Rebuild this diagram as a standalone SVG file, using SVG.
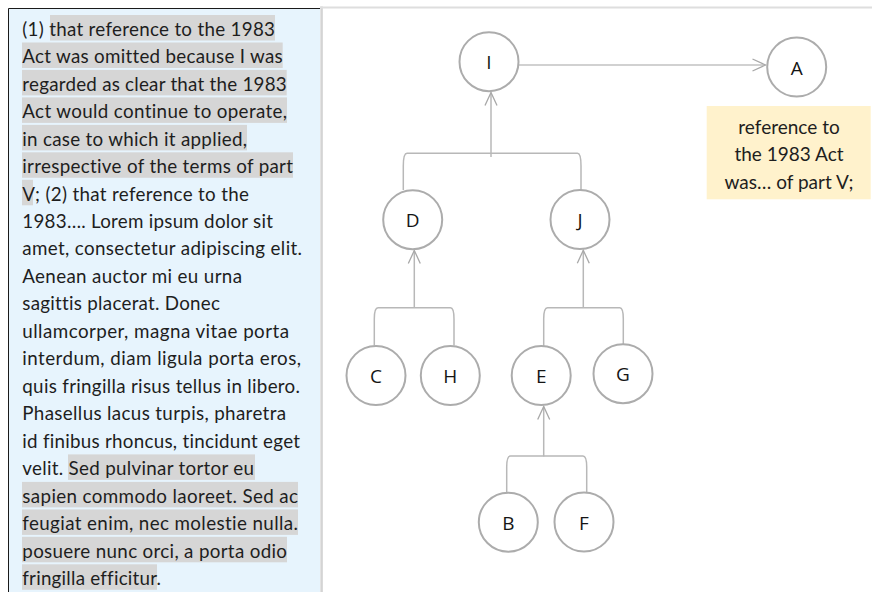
<svg xmlns="http://www.w3.org/2000/svg" width="872" height="592" viewBox="0 0 872 592">
  <style>
    text { font-variant-ligatures: none; font-feature-settings: "liga" 0, "clig" 0; }
    .body { font-family: Lato, "Liberation Sans", sans-serif; font-size: 18.8px; fill: #1e1e1e; }
    .hl { fill: #d6d6d6; }
    .node circle { fill: #ffffff; stroke: #acacac; stroke-width: 2; }
    .node text { font-family: "Open Sans", "Liberation Sans", sans-serif; font-size: 19px; fill: #151515; text-anchor: middle; }
    .tree { fill: none; stroke: #b8b8b8; stroke-width: 1.5; }
    .link { fill: none; stroke: #a4a4a4; stroke-width: 1.2; }
    .note { font-family: Lato, "Liberation Sans", sans-serif; font-size: 19px; fill: #1e1e1e; text-anchor: middle; }
  </style>
  <defs>
    <marker id="arrow" markerUnits="userSpaceOnUse" viewBox="-15 -8 17 16" markerWidth="17" markerHeight="16" refX="0" refY="0" orient="auto">
      <path d="M-13,-6 L0,0 L-13,6" fill="none" stroke="#a8a8a8" stroke-width="1.3"/>
    </marker>
  </defs>

  <rect width="872" height="592" fill="#ffffff"/>

  <!-- text panel -->
  <g id="text-panel">
    <rect x="9" y="9" width="311" height="583" fill="#e7f4fd"/>
    <path d="M8.5,592 V8.5 H320" fill="none" stroke="#1a1a1a" stroke-width="1"/>
    <line x1="321.6" y1="6.5" x2="321.6" y2="592" stroke="#d4d4d4" stroke-width="2.5"/>
    <line x1="320" y1="7.5" x2="872" y2="7.5" stroke="#dedede" stroke-width="2"/>

    <!-- highlighted passages -->
    <rect class="hl" x="50" y="15.0" width="225" height="25.5"/>
    <rect class="hl" x="22" y="42.5" width="260.7" height="25.5"/>
    <rect class="hl" x="22" y="69.9" width="264.7" height="25.5"/>
    <rect class="hl" x="22" y="97.4" width="265" height="25.5"/>
    <rect class="hl" x="22" y="124.9" width="225" height="25.5"/>
    <rect class="hl" x="22" y="152.3" width="271" height="25.5"/>
    <rect class="hl" x="22" y="179.8" width="11" height="25.5"/>
    <rect class="hl" x="68" y="454.4" width="187" height="25.5"/>
    <rect class="hl" x="22" y="481.9" width="276" height="25.5"/>
    <rect class="hl" x="22" y="509.4" width="276" height="25.5"/>
    <rect class="hl" x="22" y="536.8" width="265" height="25.5"/>
    <rect class="hl" x="22" y="564.3" width="135" height="25.5"/>

    <text class="body" x="22.3" y="35.7" textLength="252.7">(1) that reference to the 1983</text>
    <text class="body" x="22.3" y="63.2" textLength="260.4">Act was omitted because I was</text>
    <text class="body" x="22.3" y="90.6" textLength="264.4">regarded as clear that the 1983</text>
    <text class="body" x="22.3" y="118.1" textLength="264.7">Act would continue to operate,</text>
    <text class="body" x="22.3" y="145.6" textLength="224.7">in case to which it applied,</text>
    <text class="body" x="22.3" y="173.0" textLength="270.7">irrespective of the terms of part</text>
    <text class="body" x="22.3" y="200.5" textLength="226.7">V; (2) that reference to the</text>
    <text class="body" x="22.3" y="228.0" textLength="250.7">1983…. Lorem ipsum dolor sit</text>
    <text class="body" x="22.3" y="255.4" textLength="279.7">amet, consectetur adipiscing elit.</text>
    <text class="body" x="22.3" y="282.9" textLength="219.7">Aenean auctor mi eu urna</text>
    <text class="body" x="22.3" y="310.4" textLength="197.7">sagittis placerat. Donec</text>
    <text class="body" x="22.3" y="337.8" textLength="266.7">ullamcorper, magna vitae porta</text>
    <text class="body" x="22.3" y="365.3" textLength="278.7">interdum, diam ligula porta eros,</text>
    <text class="body" x="22.3" y="392.7" textLength="277.7">quis fringilla risus tellus in libero.</text>
    <text class="body" x="22.3" y="420.2" textLength="263.7">Phasellus lacus turpis, pharetra</text>
    <text class="body" x="22.3" y="447.7" textLength="277.7">id finibus rhoncus, tincidunt eget</text>
    <text class="body" x="22.3" y="475.1" textLength="231.7">velit. Sed pulvinar tortor eu</text>
    <text class="body" x="22.3" y="502.6" textLength="275.7">sapien commodo laoreet. Sed ac</text>
    <text class="body" x="22.3" y="530.1" textLength="275.7">feugiat enim, nec molestie nulla.</text>
    <text class="body" x="22.3" y="557.5" textLength="264.7">posuere nunc orci, a porta odio</text>
    <text class="body" x="22.3" y="585.0" textLength="138.7">fringilla efficitur.</text>
  </g>

  <!-- connectors -->
  <g id="connectors">
    <line class="link" x1="519" y1="65" x2="765.5" y2="65" marker-end="url(#arrow)"/>

    <path class="tree" d="M403.3,190 V166 Q403.3,153.3 407,153.3 H577.5 Q581,153.3 581,166 V190"/>
    <path class="tree" d="M491,157 V92.5" marker-end="url(#arrow)"/>

    <path class="tree" d="M374.3,345.5 V319 Q374.3,307.7 378,307.7 H450.5 Q454,307.7 454,319 V345.5"/>
    <path class="tree" d="M414.3,308 V250.5" marker-end="url(#arrow)"/>

    <path class="tree" d="M543.7,346 V319 Q543.7,307.7 547.5,307.7 H619.8 Q623.3,307.7 623.3,319 V344"/>
    <path class="tree" d="M583.3,308 V250.3" marker-end="url(#arrow)"/>

    <path class="tree" d="M506.7,492.7 V467 Q506.7,456 510.5,456 H583 Q586.7,456 586.7,467 V492.7"/>
    <path class="tree" d="M543.7,456.5 V406.5" marker-end="url(#arrow)"/>
  </g>

  <!-- nodes -->
  <g id="node-I" class="node"><circle cx="489" cy="61.7" r="29.5"/><text x="489" y="69">I</text></g>
  <g id="node-A" class="node"><circle cx="796.7" cy="67" r="29.5"/><text x="796.7" y="74.5">A</text></g>
  <g id="node-D" class="node"><circle cx="412.7" cy="219.7" r="29.5"/><text x="412.7" y="227.2">D</text></g>
  <g id="node-J" class="node"><circle cx="580" cy="219.5" r="29.5"/><text x="580" y="227">J</text></g>
  <g id="node-C" class="node"><circle cx="376" cy="375.5" r="29.5"/><text x="376" y="383">C</text></g>
  <g id="node-H" class="node"><circle cx="450.3" cy="375.5" r="29.5"/><text x="450.3" y="383">H</text></g>
  <g id="node-E" class="node"><circle cx="541.2" cy="375.5" r="29.5"/><text x="541.2" y="383">E</text></g>
  <g id="node-G" class="node"><circle cx="623" cy="373.7" r="29.5"/><text x="623" y="381.2">G</text></g>
  <g id="node-B" class="node"><circle cx="508.3" cy="522.2" r="29.5"/><text x="508.3" y="529.7">B</text></g>
  <g id="node-F" class="node"><circle cx="584" cy="522" r="29.5"/><text x="584" y="529.5">F</text></g>

  <!-- note under A -->
  <g id="note-A">
    <rect x="706.7" y="106" width="164" height="93.3" fill="#fff2cc"/>
    <text class="note" x="789" y="133.5">reference to</text>
    <text class="note" x="789" y="161">the 1983 Act</text>
    <text class="note" x="789" y="188.5">was… of part V;</text>
  </g>
</svg>
